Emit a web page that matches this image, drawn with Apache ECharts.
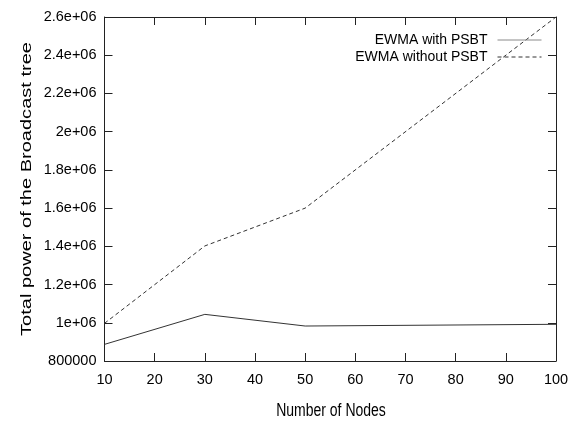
<!DOCTYPE html>
<html>
<head>
<meta charset="utf-8">
<style>
  html, body { margin: 0; padding: 0; background: #ffffff; }
  #chart { width: 576px; height: 423px; }
</style>
<script src="https://cdn.jsdelivr.net/npm/echarts@6/dist/echarts.min.js"></script>
</head>
<body>
<div id="chart"></div>
<script>
// Number of nodes in the network
const nodes = [10, 30, 50, 100];
// Total power of the broadcast tree for each scheme
const withPSBT = [887000, 1044000, 983000, 992000];
const withoutPSBT = [997000, 1402000, 1600000, 2600000];
const seriesNames = ['EWMA with PSBT', 'EWMA without PSBT'];
const xTitle = 'Number of Nodes';
const yTitle = 'Total power of the Broadcast tree';

const FONT = '"Liberation Sans", Arial, Helvetica, sans-serif';
const INK = '#222222';

function pairs(xs, ys) {
  return xs.map((x, i) => [x, ys[i]]);
}

// gnuplot-style tick labels: plain below one million, exponent form above
function yLabel(v) {
  if (v < 1e6) return String(v);
  const m = Math.round(v / 1e5) / 10;
  return m + 'e+06';
}

const tickStyle = { show: true, inside: true, length: 8, lineStyle: { color: INK, width: 1 } };
const lineAxis = { show: true, lineStyle: { color: INK, width: 1 } };
const labelFont = { fontFamily: FONT, fontSize: 14.5, color: '#000' };

const chart = echarts.init(document.getElementById('chart'), null, { renderer: 'canvas' });

chart.setOption({
  backgroundColor: '#ffffff',
  animation: false,
  textStyle: { fontFamily: FONT },
  grid: { left: 104.5, right: 20, top: 17, bottom: 62, containLabel: false },
  legend: {
    orient: 'vertical',
    align: 'right',
    right: 29,
    top: 28,
    itemWidth: 44,
    itemHeight: 14,
    itemGap: 3,
    itemStyle: { opacity: 0 },
    data: [
      { name: seriesNames[0], lineStyle: { color: '#8a8a8a', width: 1 } },
      { name: seriesNames[1], lineStyle: { color: '#333333', width: 1 } }
    ],
    textStyle: { fontFamily: FONT, fontSize: 14, color: '#000', padding: [0, 5, 0, 0] }
  },
  graphic: [
    {
      type: 'text', x: 331, y: 411, scaleY: 1.35,
      style: { text: xTitle, font: '14px ' + FONT, fill: '#000', align: 'center', verticalAlign: 'middle' }
    },
    {
      type: 'text', x: 27, y: 189, rotation: Math.PI / 2, scaleX: 1.43,
      style: { text: yTitle, font: '14px ' + FONT, fill: '#000', align: 'center', verticalAlign: 'middle' }
    }
  ],
  xAxis: [
    {
      type: 'value', min: 10, max: 100, interval: 10,
      axisLine: lineAxis, axisTick: tickStyle,
      axisLabel: Object.assign({ margin: 11 }, labelFont),
      splitLine: { show: false }
    },
    {
      type: 'value', min: 10, max: 100, interval: 10, position: 'top',
      axisLine: lineAxis, axisTick: tickStyle,
      axisLabel: { show: false }, splitLine: { show: false }
    }
  ],
  yAxis: [
    {
      type: 'value', min: 800000, max: 2600000, interval: 200000,
      axisLine: lineAxis, axisTick: tickStyle,
      axisLabel: Object.assign({ margin: 8, formatter: yLabel }, labelFont),
      splitLine: { show: false }
    },
    {
      type: 'value', min: 800000, max: 2600000, interval: 200000, position: 'right',
      axisLine: lineAxis, axisTick: tickStyle,
      axisLabel: { show: false }, splitLine: { show: false }
    }
  ],
  series: [
    {
      name: seriesNames[0], type: 'line', xAxisIndex: 0, yAxisIndex: 0,
      data: pairs(nodes, withPSBT),
      symbol: 'none',
      lineStyle: { color: '#333333', width: 1, type: 'solid' },
      itemStyle: { color: '#333333' }
    },
    {
      name: seriesNames[1], type: 'line', xAxisIndex: 0, yAxisIndex: 0,
      data: pairs(nodes, withoutPSBT),
      symbol: 'none',
      lineStyle: { color: '#333333', width: 1, type: [4, 3] },
      itemStyle: { color: '#333333' }
    }
  ]
});
</script>
</body>
</html>
